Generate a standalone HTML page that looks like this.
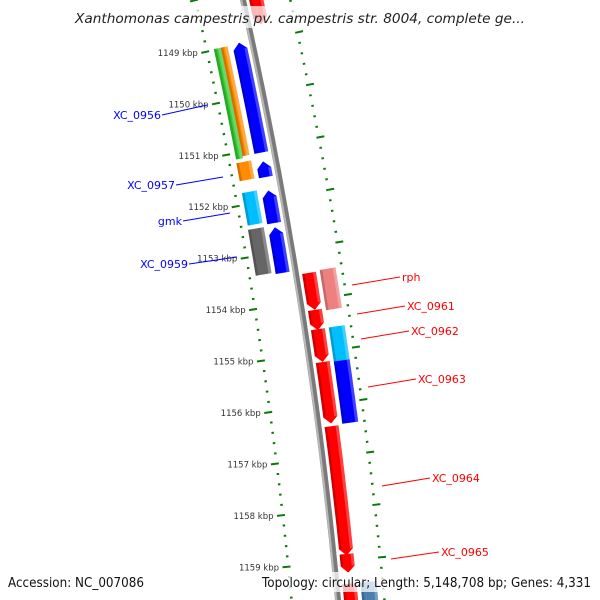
<!DOCTYPE html>
<html><head><meta charset="utf-8"><style>
html,body{margin:0;padding:0;background:#fff;overflow:hidden;}
svg{display:block;font-family:"DejaVu Sans","Liberation Sans",sans-serif;}
</style></head><body>
<svg id="map" width="600" height="600" viewBox="0 0 600 600" xmlns="http://www.w3.org/2000/svg">
<g id="ticks"></g>
<g id="backbone"></g>
<g id="features"></g>
<g id="labels"></g>
<rect x="0" y="6" width="600" height="22" fill="#fff" opacity="0.72"/>
<text x="75" y="23" font-size="13" font-style="italic" fill="#222" textLength="450" lengthAdjust="spacingAndGlyphs">Xanthomonas campestris pv. campestris str. 8004, complete ge...</text>
<rect x="0" y="572" width="600" height="20" fill="#fff" opacity="0.75"/>
<text x="8" y="587" font-size="13" fill="#111" textLength="136" lengthAdjust="spacingAndGlyphs">Accession: NC_007086</text>
<text x="262" y="587" font-size="13" fill="#111" textLength="329" lengthAdjust="spacingAndGlyphs">Topology: circular; Length: 5,148,708 bp; Genes: 4,331</text>
</svg>
<script>
// ---- data ----
const featStart = [1148.96,1148.98,1148.98,1151.19,1151.25,1151.77,1151.81,1152.48,1152.52,1147.9,1153.48,1153.46,1154.19,1154.56,1154.56,1155.21,1155.19,1156.42,1158.87,1159.44,1159.44];
const featEnd   = [1151.08,1151.12,1151.08,1151.54,1151.55,1152.40,1152.44,1153.37,1153.40,1148.71,1154.19,1154.23,1154.58,1155.19,1155.21,1156.40,1156.37,1158.90,1159.23,1161.0,1161.0];
const featRing  = [-13,-35.5,-28.5,-32,-13,-32,-13,-32,-13,13,13,32,13,13,32,32,13,13,13,13,32];
const featWidth = [14,7,7,15,14,15,14,16,14,14,14,16,14,14,16,16,14,14,14,14,16];
const featStrand= [-1,0,0,0,-1,0,-1,0,-1,1,1,0,1,1,0,0,1,1,1,1,0];
const featColor = ["#0000ff","#33cc33","#ff8c00","#ff8c00","#0000ff","#00bfff","#0000ff","#666666","#0000ff","#ff0000","#ff0000","#ee8080","#ff0000","#ff0000","#00bfff","#0000ff","#ff0000","#ff0000","#ff0000","#ff0000","#4a7fb0"];
const featName  = ["XC_0956","XC_0956b","XC_0956c","XC_0957","XC_0957b","gmk","gmk-b","XC_0959","XC_0959b","top-gene","rph","rph-b","XC_0961","XC_0962","XC_0962b","XC_0963","XC_0963b","XC_0964","XC_0965","bottom-gene","bottom-gene-b"];
const tickMajor = [1148,1149,1150,1151,1152,1153,1154,1155,1156,1157,1158,1159,1160];
const tickLabels= ["","1149 kbp","1150 kbp","1151 kbp","1152 kbp","1153 kbp","1154 kbp","1155 kbp","1156 kbp","1157 kbp","1158 kbp","1159 kbp",""];
const labelText = ["XC_0956","XC_0957","gmk","XC_0959","rph","XC_0961","XC_0962","XC_0963","XC_0964","XC_0965"];
const labelColor= ["#0000ff","#0000ff","#0000ff","#0000ff","#ff0000","#ff0000","#ff0000","#ff0000","#ff0000","#ff0000"];
const labelFrom = [[207,105],[223,177],[230,213],[237,257],[352,285],[357,314],[361,339],[368,387],[382,486],[391,559]];
const labelTo   = [[162,115],[176,185],[183,221],[189,264],[400,277],[405,306],[409,331],[416,379],[430,478],[439,552]];

// ---- geometry ----
const NS="http://www.w3.org/2000/svg";
function X(y){return 243+0.223*y-1.078e-4*y*y;}
function Xp(y){return 0.223-2.156e-4*y;}
function ybb(k){return 42+(k-1149)*52;}
function pt(k,r){const y=ybb(k),d=Xp(y),n=Math.sqrt(1+d*d);return [X(y)+r/n,y-r*d/n];}
function mk(tag,parent,attrs){const e=document.createElementNS(NS,tag);for(const a in attrs)e.setAttribute(a,attrs[a]);parent.appendChild(e);return e;}

// backbone
const bb=document.getElementById('backbone');
function line(k0,k1,r){let s="";for(let i=0;i<=40;i++){const p=pt(k0+(k1-k0)*i/40,r);s+=(i?"L":"M")+p[0].toFixed(1)+","+p[1].toFixed(1);}return s;}
const bbMain=mk('path',bb,{d:line(1148,1160.8,0),stroke:"#7a7a7a","stroke-width":6,fill:"none"});


const bbHi=mk('path',bb,{d:line(1148,1160.8,-1.8),stroke:"#b8b8b8","stroke-width":2,fill:"none"});



// ticks
const tg=document.getElementById('ticks');
for(let i=0;i<=65;i++){
  const k=1147.6+i*0.2;
  if(Math.abs(k-Math.round(k))<0.01) continue;
  for(const s of [-1,1]){
    const a=pt(k,s*45),b=pt(k,s*47.5);
    const t=mk('line',tg,{x1:a[0],y1:a[1],x2:b[0],y2:b[1],stroke:"#0a7a0a","stroke-width":2});
    
    
  }
}
tickMajor.forEach((k,i)=>{
  for(const s of [-1,1]){
    const a=pt(k,s*44),b=pt(k,s*52);
    const t=mk('line',tg,{x1:a[0],y1:a[1],x2:b[0],y2:b[1],stroke:"#0a7a0a","stroke-width":2});
    
    
  }
  if(!tickLabels[i]) return;
  const p=pt(k,-52);
  const tx=mk('text',tg,{x:p[0]-3.5,y:p[1]+3,"font-size":8.5,"text-anchor":"end",fill:"#333"});
  tx.textContent=tickLabels[i];
  
  
});

// features
const fg=document.getElementById('features');
const HEAD=0.13;
function edge(k0,k1,r){const a=[];for(let i=0;i<=10;i++)a.push(pt(k0+(k1-k0)*i/10,r));return a;}
featStart.forEach((s,i)=>{
  const e=featEnd[i],r=featRing[i],w=featWidth[i],st=featStrand[i];
  const r0=r-w/2,r1=r+w/2;
  let b0=s,b1=e;
  if(st===1)b1=Math.max(s,e-HEAD);
  if(st===-1)b0=Math.min(e,s+HEAD);
  let pts=[];
  if(st===-1)pts.push(pt(s,r));
  pts=pts.concat(edge(b0,b1,r0));
  if(st===1)pts.push(pt(e,r));
  pts=pts.concat(edge(b0,b1,r1).reverse());
  const g=mk('g',fg,{});
  
  
  const P=pts.map(p=>p[0].toFixed(1)+","+p[1].toFixed(1)).join(" ");
  mk('polygon',g,{points:P,fill:featColor[i]});
  const sl=edge(b0,b1,r0).concat(edge(b0,b1,r0+2.5).reverse());
  mk('polygon',g,{points:sl.map(p=>p.join(",")).join(" "),fill:"#000",opacity:0.18});
  const sr=edge(b0,b1,r1-3).concat(edge(b0,b1,r1).reverse());
  mk('polygon',g,{points:sr.map(p=>p.join(",")).join(" "),fill:"#fff",opacity:0.25});
});

// labels
const lg=document.getElementById('labels');
labelText.forEach((t,i)=>{
  const f=labelFrom[i],to=labelTo[i],c=labelColor[i];
  const l=mk('line',lg,{x1:f[0],y1:f[1],x2:to[0],y2:to[1],stroke:c,"stroke-width":1});
  
  
  const left=to[0]<f[0];
  const tx=mk('text',lg,{x:left?to[0]-1:to[0]+2,y:to[1]+4,"font-size":11,fill:c,"text-anchor":left?"end":"start"});
  tx.textContent=t;
  
  
});
</script>
</body></html>
